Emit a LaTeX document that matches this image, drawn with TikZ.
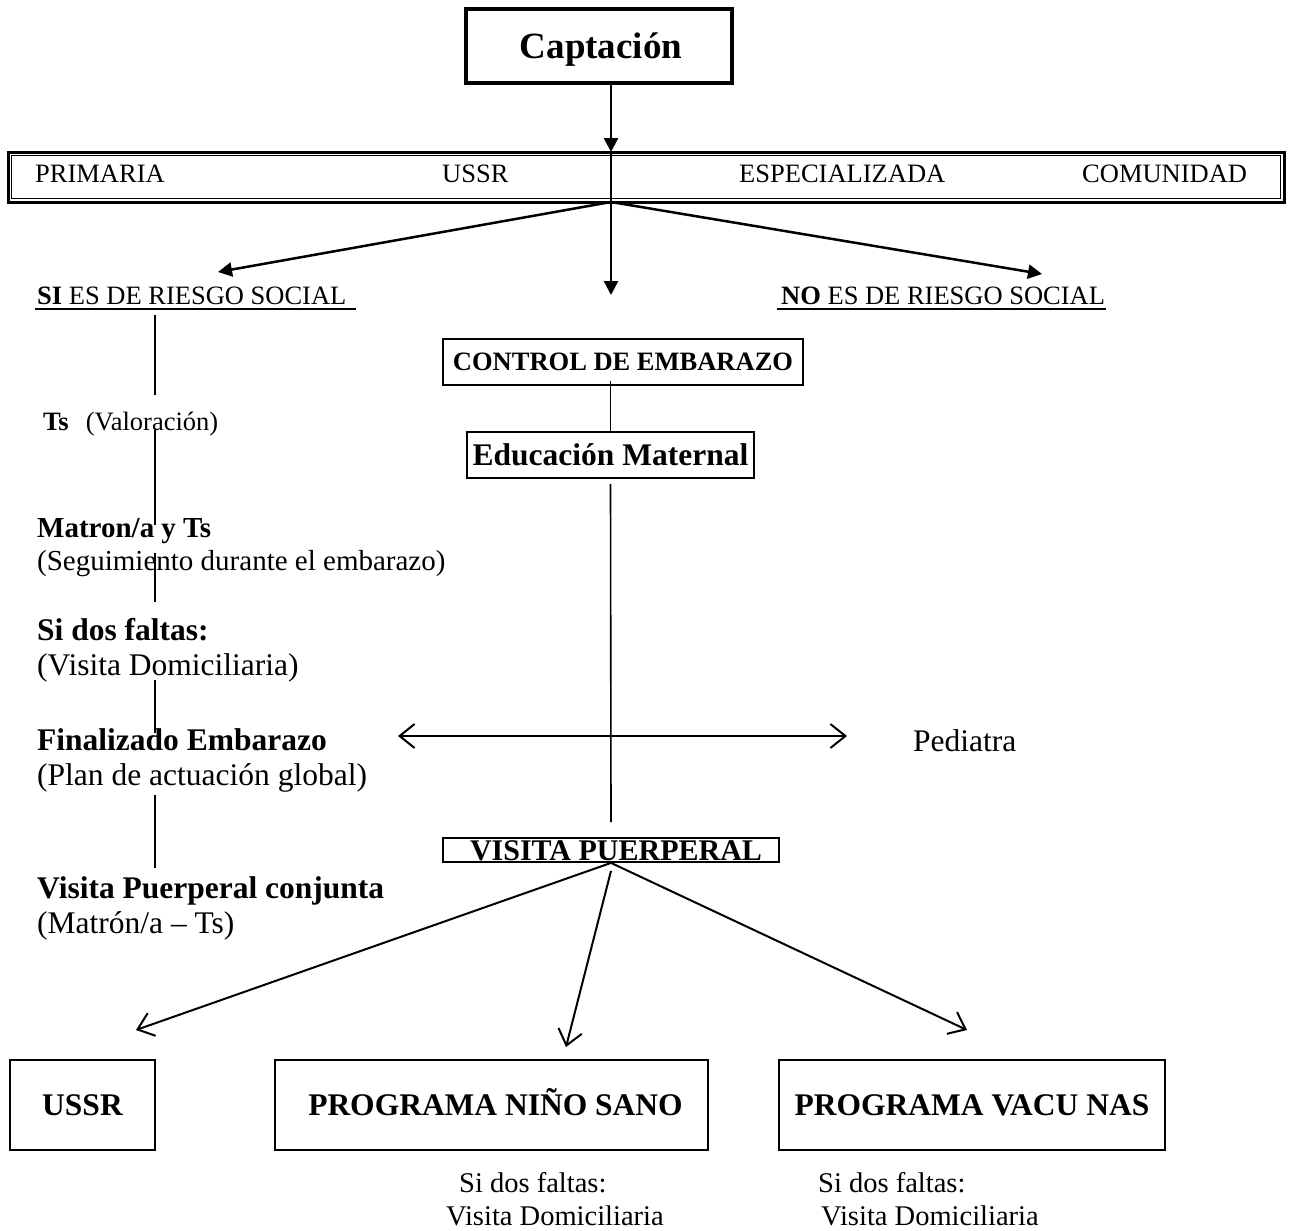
\documentclass[tikz,border=0pt]{standalone}
\usepackage{fontspec}
\setmainfont{Liberation Serif}
\usetikzlibrary{arrows.meta}
\newcommand{\myfs}[1]{\fontsize{#1}{#1}\selectfont}
\begin{document}
\begin{tikzpicture}[x=1pt,y=-1pt,
  txt/.style={inner sep=0, anchor=base west},
  bigtip/.style={-{Triangle[length=14pt,width=14pt]}, line width=2.5},
  opentip/.style={-{Straight Barb[length=15pt,width=24pt]}, line width=2},
  vl/.style={line width=1.6},
  box/.style={draw, line width=2, inner sep=0},
]
\useasboundingbox (0,0) rectangle (1294,1231);

% top box
\node[draw, line width=3.5, minimum width=266, minimum height=74, inner sep=0,
      text height=25, text depth=0, font=\myfs{37}\bfseries] (cap) at (599,46) {\hspace*{4pt}Captación};

% double bar
\node[draw, line width=3, minimum width=1276, minimum height=50, inner sep=0] (bar) at (646,177) {};
\draw[line width=1.2] ([shift={(5,5)}]bar.north west) rectangle ([shift={(-5,-5)}]bar.south east);
\node[txt, font=\myfs{26.5}] (b1) at (35,182) {PRIMARIA};
\node[txt, font=\myfs{26.5}] (b2) at (442,182) {USSR};
\node[txt, font=\myfs{26.5}] (b3) at (739,182) {ESPECIALIZADA};
\node[txt, font=\myfs{26.5}] (b4) at (1082,182) {COMUNIDAD};

\coordinate (top) at (611,152);
\coordinate (hub) at (611,202);
\coordinate (down) at (611,295);
\draw[bigtip] (cap.south -| top) -- (top);
\draw[bigtip] (top) -- (down);

% risk labels
\node[txt, font=\myfs{26.5}] (si) at (37,304) {\textbf{SI} ES DE RIESGO SOCIAL};
\draw[line width=1.5] ([shift={(-2,5)}]si.base west) -- ([shift={(9,5)}]si.base east);
\node[txt, font=\myfs{26.5}] (no) at (781,304) {\textbf{NO} ES DE RIESGO SOCIAL};
\draw[line width=1.5] ([shift={(-4,5)}]no.base west) -- ([shift={(1,5)}]no.base east);
\coordinate (siTip) at (218,272);
\coordinate (noTip) at (1042,274);
\draw[bigtip] (hub) -- (siTip);
\draw[bigtip] (hub) -- (noTip);

% left column
\node[txt, font=\myfs{26.5}] (ts) at (43,430) {\textbf{Ts}\hspace{17pt}(Valoración)};
\node[txt, font=\myfs{29}\bfseries] (mat1) at (37,537) {Matron/a y Ts};
\node[txt, font=\myfs{29}] (mat2) at (37,570) {(Seguimiento durante el embarazo)};
\node[txt, font=\myfs{31.5}\bfseries] (sd1) at (37,640) {Si dos faltas:};
\node[txt, font=\myfs{31.5}] (sd2) at (37,675) {(Visita Domiciliaria)};
\node[txt, font=\myfs{31.5}\bfseries] (fin1) at (37,750) {Finalizado Embarazo};
\node[txt, font=\myfs{31.5}] (fin2) at (37,785) {(Plan de actuación global)};
\node[txt, font=\myfs{31.5}\bfseries] (vpc1) at (37,898) {Visita Puerperal conjunta};
\node[txt, font=\myfs{31.5}] (vpc2) at (37,933) {(Matrón/a – Ts)};

\draw[vl] (155,315) -- (155,395);
\draw[vl] (155,430) -- (155,525);
\draw[vl] (155,553) -- (155,602);
\draw[vl] (155,680) -- (155,733);
\draw[vl] (155,795) -- (155,868);

% centre column
\node[box, line width=1.8, minimum width=360, minimum height=46, text height=17.5, text depth=0,
      font=\myfs{26.5}\bfseries] (ctrl) at (623,362) {CONTROL DE EMBARAZO};
\node[box, line width=1.8, minimum width=287, minimum height=46, text height=21, text depth=0,
      font=\myfs{31.5}\bfseries] (edu) at (610.5,455) {Educación Maternal};
\draw[vl] ([shift={(0,-5)}]ctrl.south -| edu.north) -- (edu.north);
\coordinate (vtop) at (611,822);
\draw[vl] ([shift={(0,5)}]edu.south) -- (vtop);

\coordinate (hl) at (398,736);
\coordinate (hr) at (847,736);
\draw[{Straight Barb[length=15pt,width=24pt]}-{Straight Barb[length=15pt,width=24pt]}, line width=2] (hl) -- (hr);
\node[txt, font=\myfs{31.5}] (ped) at (913,751) {Pediatra};

\node[box, line width=1.8, minimum width=336, minimum height=24, text height=21.5, text depth=0.5,
      font=\myfs{30}\bfseries] (vp) at (611,850) {\hspace*{10pt}VISITA PUERPERAL};

% bottom boxes
\node[box, minimum width=145, minimum height=90, text height=21, text depth=0,
      font=\myfs{31.5}\bfseries] (ussr) at (82.5,1105) {USSR};
\node[box, minimum width=433, minimum height=90, text height=21, text depth=0,
      font=\myfs{31.5}\bfseries] (nino) at (491.5,1105) {\hspace*{8pt}PROGRAMA NIÑO SANO};
\node[box, minimum width=386, minimum height=90, text height=21, text depth=0,
      font=\myfs{31.5}\bfseries] (vac) at (972,1105) {PROGRAMA VACU NAS};

\coordinate (tipL) at (136,1030);
\coordinate (tipM) at (566,1047);
\coordinate (tipR) at (967,1030);
\draw[opentip] (vp.south) -- (tipL);
\draw[opentip] ([shift={(0,8)}]vp.south) -- (tipM);
\draw[opentip] (vp.south) -- (tipR);

\node[txt, font=\myfs{28.5}] (n1) at (459,1192) {Si dos faltas:};
\node[txt, font=\myfs{28.5}] (n2) at (446,1225) {Visita Domiciliaria};
\node[txt, font=\myfs{28.5}] (v1) at (818,1192) {Si dos faltas:};
\node[txt, font=\myfs{28.5}] (v2) at (821,1225) {Visita Domiciliaria};
\end{tikzpicture}
\end{document}
